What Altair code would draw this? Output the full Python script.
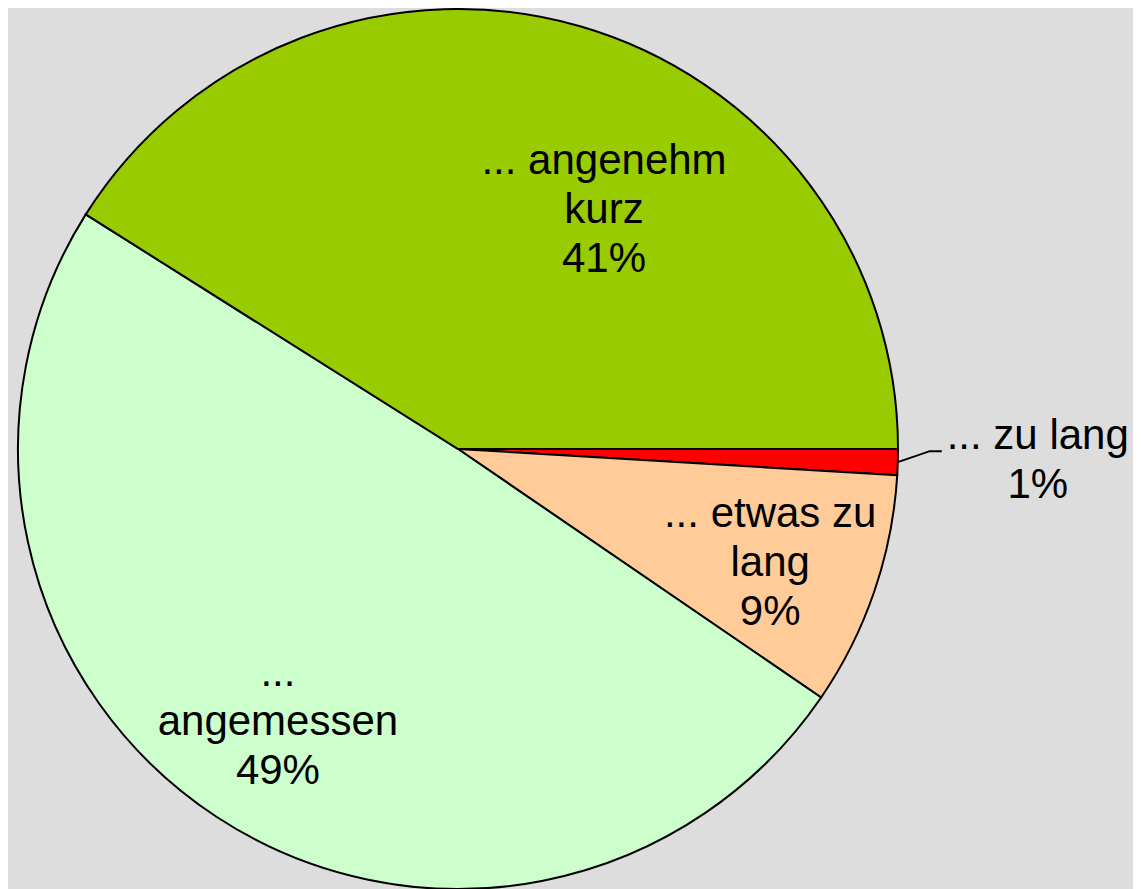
import math
import altair as alt
import pandas as pd

# ---- data ----
categories = ["... zu lang", "... etwas zu\nlang", "...\nangemessen", "... angenehm\nkurz"]
values = [0.95, 8.6, 49.4, 41.05]
colors = ["#FF0000", "#FFCC99", "#CCFFCC", "#99CC00"]

total = sum(values)
pct_labels = [f"{round(v)}%" for v in values]
df = pd.DataFrame({
    "cat": categories,
    "value": values,
    "idx": list(range(len(values))),
    "label": [c + "\n" + p for c, p in zip(categories, pct_labels)],
})

# ---- layout ----
W, H = 1125, 881
CX, CY = 450, 441
R = 440
FONT = "Liberation Sans"
FS = 42

theta_scale = alt.Scale(domain=[0, total], range=[math.pi / 2, math.pi / 2 + 2 * math.pi])
color_scale = alt.Scale(domain=categories, range=colors)

base = alt.Chart(df)

pie = base.mark_arc(stroke="black", strokeWidth=2, radius=R).encode(
    theta=alt.Theta("value:Q", stack=True, scale=theta_scale),
    color=alt.Color("cat:N", scale=color_scale, legend=None),
    order=alt.Order("idx:Q"),
    x=alt.value(CX),
    y=alt.value(CY),
)

lab_base = base.transform_window(
    cum="sum(value)", sort=[alt.SortField("idx")], frame=[None, 0]
).transform_calculate(mid="datum.cum - datum.value / 2")


def text_layer(k, radius, dx=0, dy=0):
    return lab_base.transform_filter(f"datum.idx == {k}").mark_text(
        radius=radius, dx=dx, dy=dy, font=FONT, fontSize=FS, lineBreak="\n",
        lineHeight=49, align="center", baseline="middle", color="black",
    ).encode(
        theta=alt.Theta("mid:Q", stack=None, scale=theta_scale),
        text="label:N",
        x=alt.value(CX),
        y=alt.value(CY),
    )


t_zu = text_layer(0, 580, dy=-30)
t_etwas = text_layer(1, 331, dx=-1, dy=-42)
t_angem = text_layer(2, 328, dy=-50)
t_kurz = text_layer(3, 328, dx=55, dy=27)

# leader line for the small slice, derived from its mid angle
mid_frac = (values[0] / 2) / total
ang = math.pi / 2 + mid_frac * 2 * math.pi
sx = CX + R * math.sin(ang)
sy = CY - R * math.cos(ang)
ex = sx + 32
ey = sy - 11
lead = pd.DataFrame({"x": [sx, ex, ex + 12], "y": [sy, ey, ey], "o": [0, 1, 2]})
leader = alt.Chart(lead).mark_line(color="black", strokeWidth=2).encode(
    x=alt.X("x:Q", scale=None, axis=None),
    y=alt.Y("y:Q", scale=None, axis=None),
    order="o:Q",
)

chart = alt.layer(pie, leader, t_zu, t_etwas, t_angem, t_kurz).properties(
    width=W, height=H, padding=0, autosize="none", background="#DDDDDD"
).configure_view(stroke=None)

chart.save("out.html", embed_options={"renderer": "svg", "actions": False})
